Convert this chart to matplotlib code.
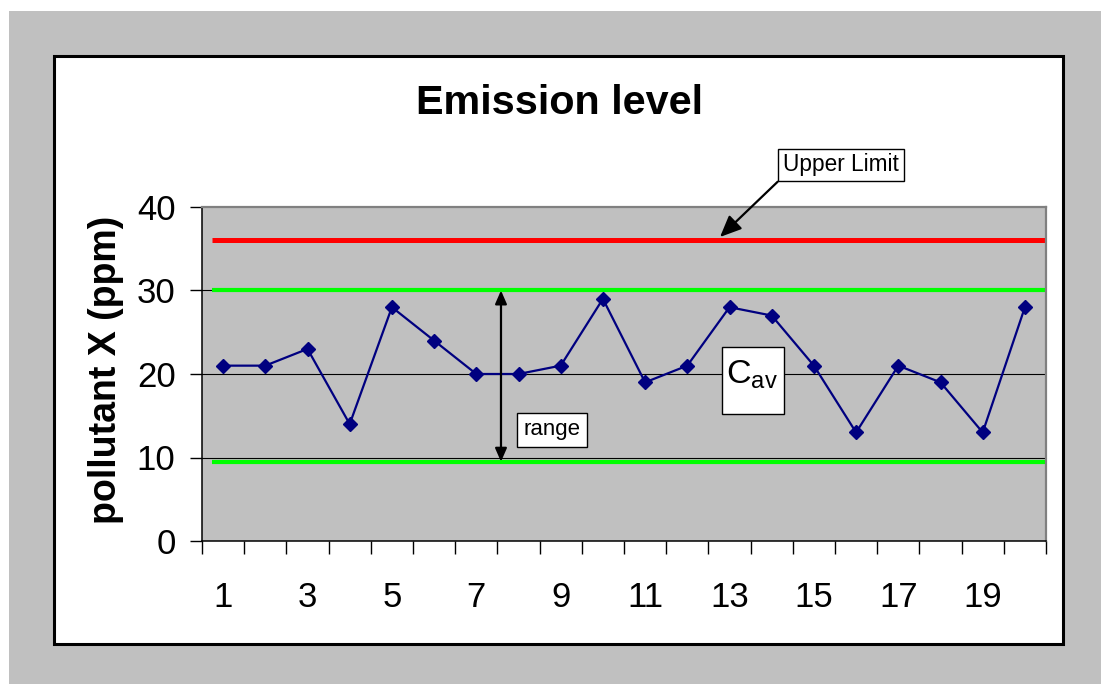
import matplotlib
matplotlib.use("Agg")
import matplotlib.pyplot as plt
from matplotlib.patches import Rectangle
import numpy as np

plt.rcParams['font.family'] = ['Liberation Sans', 'DejaVu Sans']
plt.rcParams['mathtext.fontset'] = 'custom'
plt.rcParams['mathtext.rm'] = 'Liberation Sans'
plt.rcParams['mathtext.it'] = 'Liberation Sans'

# ---- data ----
samples = list(range(1, 21))
emission = [21, 21, 23, 14, 28, 24, 20, 20, 21, 29, 19, 21, 28, 27, 21, 13, 21, 19, 13, 28]
upper_limit = 36
range_top = 30
range_bottom = 9.5
x_tick_labels = [str(i) for i in range(1, 20, 2)]
y_ticks = [0, 10, 20, 30, 40]

W, H = 1101, 684
fig = plt.figure(figsize=(W / 100, H / 100), dpi=100)
fig.patch.set_facecolor('white')

def fx(px):
    return px / W

def fy(py):
    return 1 - py / H

# outer grey panel and white chart area
fig.patches.append(Rectangle((fx(9), fy(684)), fx(1101) - fx(9), fy(11) - fy(684),
                             transform=fig.transFigure, facecolor='#C0C0C0', edgecolor='none', zorder=0))
fig.patches.append(Rectangle((fx(54), fy(644)), fx(1063) - fx(54), fy(56) - fy(644),
                             transform=fig.transFigure, facecolor='white', edgecolor='black',
                             linewidth=2.2, zorder=1))

L, R, T, B = 202, 1046, 207, 541
ax = fig.add_axes([fx(L), fy(B), fx(R) - fx(L), fy(T) - fy(B)])
ax.set_zorder(2)
ax.set_facecolor('#C0C0C0')

ax.set_xlim(0.5, 20.5)
ax.set_ylim(0, 40)

# gridlines
for yv in y_ticks[1:-1]:
    ax.axhline(yv, color='#000000', linewidth=0.8, zorder=1)

# limit lines
x0 = 0.73
ax.plot([x0, 20.5], [upper_limit, upper_limit], color='#FF0000', linewidth=3.6, zorder=2,
        solid_capstyle='butt')
ax.plot([x0, 20.5], [range_top, range_top], color='#00FF00', linewidth=3.0, zorder=2,
        solid_capstyle='butt')
ax.plot([x0, 20.5], [range_bottom, range_bottom], color='#00FF00', linewidth=3.0, zorder=2,
        solid_capstyle='butt')

# data series
ax.plot(samples, emission, color='#000080', linewidth=1.6, marker='D', markersize=7,
        markerfacecolor='#000080', markeredgecolor='#000080', zorder=4)

# spines
ax.spines['left'].set_color('#000000')
ax.spines['bottom'].set_color('#000000')
ax.spines['left'].set_linewidth(1.1)
ax.spines['bottom'].set_linewidth(1.1)
ax.spines['top'].set_color('#808080')
ax.spines['right'].set_color('#808080')
ax.spines['top'].set_linewidth(1.6)
ax.spines['right'].set_linewidth(1.6)

# ticks
ax.set_yticks(y_ticks)
ax.set_yticklabels([str(v) for v in y_ticks], fontsize=25)
ax.tick_params(axis='y', direction='out', length=9, width=1, color='#000000', pad=10)
ax.set_xticks(np.arange(0.5, 21, 1))
ax.set_xticklabels([])
ax.tick_params(axis='x', which='major', direction='out', length=9, width=1, color='#000000')
ax.set_xticks(list(range(1, 20, 2)), minor=True)
ax.set_xticklabels(x_tick_labels, minor=True, fontsize=25)
ax.tick_params(axis='x', which='minor', length=0, pad=29)

# title and y label
fig.text(fx(560), fy(114), 'Emission level', fontsize=29.8, fontweight='bold',
         ha='center', va='baseline')
fig.text(fx(106), fy(370), 'pollutant X (ppm)', fontsize=27, fontweight='bold',
         rotation=90, ha='center', va='center')

# range arrow
ax.annotate('', xy=(7.585, range_bottom), xytext=(7.585, range_top),
            arrowprops=dict(arrowstyle='<|-|>,head_length=0.8,head_width=0.35',
                            color='black', lw=1.6, shrinkA=0, shrinkB=0), zorder=5)

# range label box
ax.text(8.79, 13.3, 'range', fontsize=16, ha='center', va='center', zorder=6,
        bbox=dict(boxstyle='square,pad=0.3', facecolor='white', edgecolor='black', linewidth=1))

# C_av box
def dx(px):
    return 0.5 + (px - L) / ((R - L) / 20)

def dy(py):
    return (B - py) / ((B - T) / 40)

ax.add_patch(Rectangle((dx(722), dy(414)), dx(784) - dx(722), dy(347) - dy(414),
                       facecolor='white', edgecolor='black', linewidth=1, zorder=6))
ax.text(dx(752), dy(384), r'$\mathrm{C}_{\mathrm{av}}$', fontsize=24.5, ha='center', va='baseline', zorder=7)

# Upper limit callout
ax.annotate('Upper Limit', xy=(dx(720), dy(237)), xytext=(dx(841), dy(165)),
            fontsize=16.3, ha='center', va='center', annotation_clip=False, zorder=7,
            bbox=dict(boxstyle='square,pad=0.22', facecolor='white', edgecolor='black', linewidth=1),
            arrowprops=dict(arrowstyle='-|>,head_length=0.8,head_width=0.35', color='black',
                            lw=1.6, shrinkA=0, shrinkB=0, relpos=(0, 0)))

fig.savefig('out.png', dpi=100)
